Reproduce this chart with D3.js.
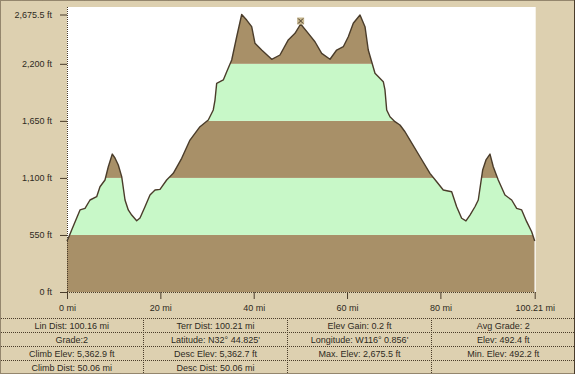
<!DOCTYPE html>
<html>
<head>
<meta charset="utf-8">
<script src="https://cdn.jsdelivr.net/npm/d3@7"></script>
<style>
  body { margin: 0; background: #ddd0b0; }
  svg { display: block; }
  text { font-family: "Liberation Sans", Arial, sans-serif; font-size: 9px; fill: #2e2a22; }
</style>
</head>
<body>
<div id="chart"></div>
<script>
// profile: distance (mi) and elevation (ft)
const miles = [0, 0.3, 1.0, 2.79, 3.86, 4.93, 6.36, 7.07, 8.14, 8.85, 9.71, 10.28, 10.99, 11.72, 12.43,
  13.13, 13.86, 14.93, 15.64, 16.71, 17.78, 18.86, 19.93, 21.35, 22.77, 24.57, 26.35, 28.49, 30.27,
  31.34, 31.71, 32.07, 32.78, 33.49, 34.22, 35.29, 36.36, 37.43, 38.5, 39.57, 40.28, 41.71, 43.86,
  45.63, 47.41, 48.85, 50.06, 51.7, 53.13, 54.57, 56.35, 57.78, 59.2, 60.27, 61.34, 62.78, 63.85,
  64.55, 65.28, 65.99, 67.77, 68.13, 68.5, 69.2, 70.27, 71.34, 72.42, 73.49, 75.63, 77.77, 79.21,
  80.62, 82.42, 83.49, 84.56, 85.48, 86.34, 87.41, 88.12, 89.06, 89.77, 90.63, 91.33, 92.4, 93.84,
  95.28, 96.35, 97.42, 98.49, 99.56, 100.21];
const elevation = [492, 520, 598, 791, 807, 887, 919, 1015, 1080, 1208, 1330, 1292, 1224, 1112, 887,
  791, 742, 687, 713, 822, 935, 983, 990, 1080, 1144, 1289, 1465, 1594, 1658,
  1755, 1851, 2012, 2028, 2044, 2124, 2237, 2461, 2675.5, 2622, 2558, 2398, 2333, 2244,
  2285, 2430, 2494, 2584, 2494, 2413, 2301, 2244, 2333, 2365, 2461, 2591, 2671, 2558,
  2333, 2220, 2109, 2028, 1948, 1755, 1690, 1642, 1610, 1545, 1465, 1304, 1144, 1063,
  983, 967, 822, 711, 685, 742, 822, 887, 1176, 1273, 1330, 1208, 1080, 935,
  887, 807, 791, 678, 581, 492];

const yTicks = [0, 550, 1100, 1650, 2200, 2675.5];
const yTickLabels = ['0 ft', '550 ft', '1,100 ft', '1,650 ft', '2,200 ft', '2,675.5 ft'];
const xTicks = [0, 20, 40, 60, 80, 100.21];
const xTickLabels = ['0 mi', '20 mi', '40 mi', '60 mi', '80 mi', '100.21 mi'];
const bandEdges = [0, 550, 1100, 1650, 2200, 2900];
const markerMile = 50.06;

const statsCol1 = ['Lin Dist: 100.16 mi', 'Grade:2', 'Climb Elev: 5,362.9 ft', 'Climb Dist: 50.06 mi'];
const statsCol2 = ['Terr Dist: 100.21 mi', 'Latitude: N32\u00b0 44.825\'', 'Desc Elev: 5,362.7 ft', 'Desc Dist: 50.06 mi'];
const statsCol3 = ['Elev Gain: 0.2 ft', 'Longitude: W116\u00b0 0.856\'', 'Max. Elev: 2,675.5 ft', ''];
const statsCol4 = ['Avg Grade: 2', 'Elev: 492.4 ft', 'Min. Elev: 492.2 ft', ''];

const W = 575, H = 374;
const plot = { left: 67, right: 534.7, top: 7, bottom: 292 };
const brown = '#a89068', green = '#c8f8c8', ink = '#4a3c2a';

const svg = d3.select('#chart').append('svg')
  .attr('width', W).attr('height', H);

svg.append('rect').attr('width', W).attr('height', H).attr('fill', '#ddd0b0');

const x = d3.scaleLinear().domain([0, 100.21]).range([plot.left, plot.right]);
const y = d3.scaleLinear().domain([0, 2675.5]).range([plot.bottom, 14.5]);

// white plot area
svg.append('rect')
  .attr('x', plot.left).attr('y', plot.top)
  .attr('width', plot.right - plot.left + 1).attr('height', plot.bottom - plot.top)
  .attr('fill', '#fff');

const pts = miles.map((m, i) => ({ m, e: elevation[i] }));

const area = d3.area().x((d) => x(d.m)).y0(plot.bottom).y1((d) => y(d.e));
const line = d3.line().x((d) => x(d.m)).y((d) => y(d.e));

svg.append('clipPath').attr('id', 'profileClip')
  .append('path').attr('d', area(pts));

// elevation bands, clipped by the profile
const bands = svg.append('g').attr('clip-path', 'url(#profileClip)');
bandEdges.slice(0, -1).forEach((lo, i) => {
  const hi = bandEdges[i + 1];
  bands.append('rect')
    .attr('x', plot.left).attr('width', plot.right - plot.left)
    .attr('y', Math.max(plot.top, y(hi))).attr('height', y(lo) - Math.max(plot.top, y(hi)))
    .attr('fill', i % 2 === 0 ? brown : green);
});

svg.append('path').attr('d', line(pts))
  .attr('fill', 'none').attr('stroke', ink).attr('stroke-width', 1.4)
  .attr('stroke-linejoin', 'round');

// axes
const yAxis = svg.append('g').attr('transform', `translate(${plot.left},0)`)
  .call(d3.axisLeft(y).tickValues(yTicks).tickFormat((d, i) => yTickLabels[i]).tickSize(7).tickPadding(8));
const xAxis = svg.append('g').attr('transform', `translate(0,${plot.bottom})`)
  .call(d3.axisBottom(x).tickValues(xTicks).tickFormat((d, i) => xTickLabels[i]).tickSize(7).tickPadding(6));
[yAxis, xAxis].forEach((g) => {
  g.select('.domain').remove();
  g.selectAll('.tick line').attr('stroke', ink);
  g.selectAll('text').attr('font-family', null).attr('font-size', null);
});

svg.append('line').attr('x1', plot.left + 0.5).attr('x2', plot.left + 0.5)
  .attr('y1', plot.top).attr('y2', plot.bottom)
  .attr('stroke', ink).attr('stroke-dasharray', '1,1');
svg.append('line').attr('x1', plot.left).attr('x2', plot.right + 1)
  .attr('y1', plot.bottom + 0.5).attr('y2', plot.bottom + 0.5)
  .attr('stroke', ink).attr('stroke-dasharray', '1,1');

// marker on the middle peak
const mk = pts.find((d) => d.m === markerMile);
const mx = x(mk.m), my = y(mk.e) - 3;
svg.append('rect').attr('x', mx - 3.5).attr('y', my - 3.5).attr('width', 7).attr('height', 7)
  .attr('fill', '#c8b890');
svg.append('path').attr('d', `M${mx - 2.5},${my - 2.5}L${mx + 2.5},${my + 2.5}M${mx + 2.5},${my - 2.5}L${mx - 2.5},${my + 2.5}`)
  .attr('stroke', ink).attr('stroke-width', 1);

// stats table
const tableTop = 318, rowH = 14;
const colEdges = [0, 143.5, 287.5, 431.5, 575];
const cols = [statsCol1, statsCol2, statsCol3, statsCol4];
const table = svg.append('g');
for (let r = 0; r <= 4; r++) {
  table.append('line').attr('x1', 1).attr('x2', W - 1)
    .attr('y1', tableTop + r * rowH + 0.5).attr('y2', tableTop + r * rowH + 0.5)
    .attr('stroke', ink).attr('stroke-dasharray', '1,1');
}
colEdges.slice(1, -1).forEach((cx) => {
  table.append('line').attr('x1', cx).attr('x2', cx)
    .attr('y1', tableTop).attr('y2', tableTop + 4 * rowH)
    .attr('stroke', ink).attr('stroke-dasharray', '1,1');
});
cols.forEach((col, c) => {
  table.selectAll(null).data(col).enter().append('text')
    .attr('x', (colEdges[c] + colEdges[c + 1]) / 2)
    .attr('y', (d, r) => tableTop + r * rowH + rowH / 2 + 3.5)
    .attr('text-anchor', 'middle')
    .text((d) => d);
});

// outer frame
svg.append('rect').attr('x', 0.5).attr('y', 0.5).attr('width', W - 1).attr('height', H - 1)
  .attr('fill', 'none').attr('stroke', ink).attr('stroke-dasharray', '1,1');
svg.append('line').attr('x1', W - 0.5).attr('x2', W - 0.5).attr('y1', 0).attr('y2', H)
  .attr('stroke', ink);
</script>
</body>
</html>
